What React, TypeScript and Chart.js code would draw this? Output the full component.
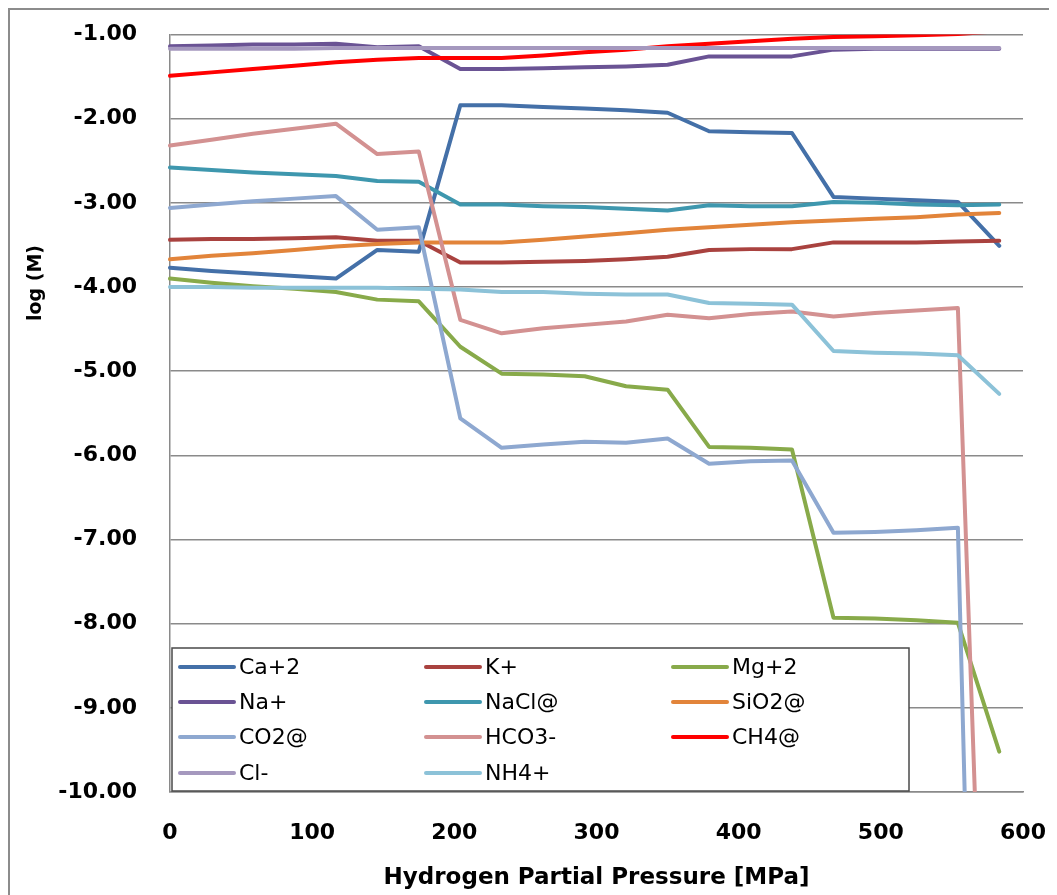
import { useEffect, useRef } from "react";
import { Chart, registerables } from "chart.js";

Chart.register(...registerables);

// Hydrogen partial pressure steps [MPa]
const pressure = [0, 29.2, 58.3, 87.5, 116.7, 145.8, 175.0, 204.2, 233.3, 262.5, 291.7, 320.8, 350.0, 379.2, 408.3, 437.5, 466.7, 495.8, 525.0, 554.2, 583.3];

// log (M) of each species at every pressure step
const ca2 = [-3.77, -3.81, -3.84, -3.87, -3.90, -3.56, -3.58, -1.84, -1.84, -1.86, -1.88, -1.90, -1.93, -2.15, -2.16, -2.17, -2.93, -2.95, -2.97, -2.99, -3.51];
const kPlus = [-3.44, -3.43, -3.43, -3.42, -3.41, -3.45, -3.45, -3.71, -3.71, -3.70, -3.69, -3.67, -3.64, -3.56, -3.55, -3.55, -3.47, -3.47, -3.47, -3.46, -3.45];
const mg2 = [-3.90, -3.95, -3.99, -4.02, -4.06, -4.15, -4.17, -4.71, -5.03, -5.04, -5.06, -5.18, -5.22, -5.90, -5.91, -5.93, -7.93, -7.94, -7.96, -7.99, -9.52];
const naPlus = [-1.14, -1.13, -1.12, -1.12, -1.11, -1.15, -1.14, -1.41, -1.41, -1.40, -1.39, -1.38, -1.36, -1.26, -1.26, -1.26, -1.18, -1.17, -1.17, -1.17, -1.17];
const nacl = [-2.58, -2.61, -2.64, -2.66, -2.68, -2.74, -2.75, -3.02, -3.02, -3.04, -3.05, -3.07, -3.09, -3.03, -3.04, -3.04, -2.99, -3.00, -3.02, -3.03, -3.02];
const sio2 = [-3.67, -3.63, -3.60, -3.56, -3.52, -3.49, -3.47, -3.47, -3.47, -3.44, -3.40, -3.36, -3.32, -3.29, -3.26, -3.23, -3.21, -3.19, -3.17, -3.14, -3.12];
const co2 = [-3.06, -3.02, -2.98, -2.95, -2.92, -3.32, -3.29, -5.56, -5.91, -5.87, -5.84, -5.85, -5.80, -6.10, -6.07, -6.06, -6.92, -6.91, -6.89, -6.86, -26.0];
const hco3 = [-2.32, -2.25, -2.18, -2.12, -2.06, -2.42, -2.39, -4.39, -4.55, -4.49, -4.45, -4.41, -4.33, -4.37, -4.32, -4.29, -4.35, -4.31, -4.28, -4.25, -18.3];
const ch4 = [-1.49, -1.45, -1.41, -1.37, -1.33, -1.30, -1.28, -1.28, -1.28, -1.25, -1.21, -1.18, -1.14, -1.11, -1.08, -1.05, -1.03, -1.02, -1.01, -0.995, -0.96];
const clMinus = [-1.17, -1.17, -1.17, -1.17, -1.16, -1.16, -1.16, -1.16, -1.16, -1.16, -1.16, -1.16, -1.16, -1.16, -1.16, -1.16, -1.16, -1.16, -1.16, -1.16, -1.16];
const nh4 = [-4.00, -4.00, -4.01, -4.01, -4.01, -4.01, -4.02, -4.03, -4.06, -4.06, -4.08, -4.09, -4.09, -4.19, -4.20, -4.21, -4.76, -4.78, -4.79, -4.81, -5.27];

const seriesNames = ["Ca+2", "K+", "Mg+2", "Na+", "NaCl@", "SiO2@", "CO2@", "HCO3-", "CH4@", "Cl-", "NH4+"];
const seriesValues = [ca2, kPlus, mg2, naPlus, nacl, sio2, co2, hco3, ch4, clMinus, nh4];
const seriesColors = ["#4470A8", "#A9423F", "#88AA4A", "#6A5394", "#3E97AE", "#E2843A", "#8EA8D0", "#D39191", "#FF0000", "#A598BE", "#8CC2D8"];

const yAxisTitle = "log (M)";
const xAxisTitle = "Hydrogen Partial Pressure [MPa]";

const FONT = "'DejaVu Sans', sans-serif";
const GRID = "#8a8a8a";
const CLEAR = "rgba(0,0,0,0)";

// Axis titles and the boxed three-column legend
const decorations = {
  id: "decorations",
  afterDatasetsDraw(chart: any) {
    const { ctx, chartArea } = chart;
    const boxLeft = chartArea.left + 2;
    const boxRight = boxLeft + 737;
    const boxBottom = chartArea.bottom - 1;
    const boxTop = boxBottom - 143;
    ctx.save();
    ctx.fillStyle = "#ffffff";
    ctx.fillRect(boxLeft, boxTop, boxRight - boxLeft, boxBottom - boxTop);
    ctx.strokeStyle = "#4a4a4a";
    ctx.lineWidth = 1.5;
    ctx.strokeRect(boxLeft, boxTop, boxRight - boxLeft, boxBottom - boxTop);

    const colStart = [8, 254, 501];
    const rowCenter = [19, 54, 89, 125];
    ctx.font = `22px ${FONT}`;
    ctx.textAlign = "left";
    ctx.textBaseline = "middle";
    seriesNames.forEach((name, i) => {
      const col = i % 3;
      const row = Math.floor(i / 3);
      const x0 = boxLeft + colStart[col];
      const y0 = boxTop + rowCenter[row];
      ctx.strokeStyle = seriesColors[i];
      ctx.lineWidth = 4;
      ctx.lineCap = "round";
      ctx.beginPath();
      ctx.moveTo(x0, y0);
      ctx.lineTo(x0 + 54, y0);
      ctx.stroke();
      ctx.fillStyle = "#000000";
      ctx.fillText(name, x0 + 59, y0 + 1);
    });
    ctx.restore();
  },
  afterDraw(chart: any) {
    const { ctx, chartArea } = chart;
    ctx.save();
    ctx.fillStyle = "#000000";
    ctx.textAlign = "center";
    ctx.textBaseline = "middle";
    ctx.font = `bold 23px ${FONT}`;
    ctx.fillText(xAxisTitle, (chartArea.left + chartArea.right) / 2, chartArea.bottom + 86);
    ctx.translate(26, 273);
    ctx.rotate(-Math.PI / 2);
    ctx.font = `bold 19px ${FONT}`;
    ctx.fillText(yAxisTitle, 0, 0);
    ctx.restore();
  },
};

export default function App() {
  const canvasRef = useRef<HTMLCanvasElement | null>(null);

  useEffect(() => {
    if (!canvasRef.current) return;
    const n = seriesValues.length;
    const chart = new Chart(canvasRef.current, {
      type: "line",
      data: {
        datasets: seriesValues.map((vals, i) => ({
          label: seriesNames[i],
          data: pressure.map((x, j) => ({ x, y: vals[j] })),
          borderColor: seriesColors[i],
          backgroundColor: seriesColors[i],
          borderWidth: 4,
          pointRadius: 0,
          tension: 0,
          fill: false,
          borderCapStyle: "round",
          borderJoinStyle: "round",
          clip: { left: 2, top: 0, right: 4, bottom: 0 },
          order: n - i,
        })),
      },
      options: {
        responsive: false,
        animation: false,
        events: [],
        layout: { padding: { top: 24.5, right: 34, left: 0, bottom: 0 } },
        plugins: {
          legend: { display: false },
          tooltip: { enabled: false },
        },
        scales: {
          x: {
            type: "linear",
            min: 0,
            max: 600,
            ticks: {
              stepSize: 100,
              maxRotation: 0,
              padding: 0,
              color: "#000000",
              font: { family: FONT, size: 22, weight: "bold" },
            },
            grid: { display: true, drawOnChartArea: false, drawTicks: true, tickLength: 28, tickColor: CLEAR },
            border: { display: true, color: GRID, width: 1.5 },
            afterFit: (s: any) => {
              s.height = 103;
            },
          },
          y: {
            type: "linear",
            min: -10,
            max: -1,
            ticks: {
              stepSize: 1,
              padding: 0,
              color: "#000000",
              font: { family: FONT, size: 22, weight: "bold" },
              callback: (v: any) => Number(v).toFixed(2),
            },
            grid: { color: GRID, lineWidth: 1.5, drawTicks: true, tickLength: 33, tickColor: CLEAR },
            border: { display: true, color: GRID, width: 1.5 },
            afterFit: (s: any) => {
              s.width = 160;
            },
          },
        },
      },
      plugins: [decorations],
    } as any);
    return () => chart.destroy();
  }, []);

  return (
    <>
      <style>{"html,body{overflow:hidden}"}</style>
      <div
        style={{
          position: "relative",
          width: 1049,
          height: 887,
          boxSizing: "border-box",
          borderTop: "2px solid #8c8c8c",
          borderLeft: "2px solid #8c8c8c",
          background: "#ffffff",
        }}
      >
        <canvas
          ref={canvasRef}
          width={1047}
          height={885}
          style={{ position: "absolute", left: 0, top: 0, display: "block" }}
        />
      </div>
    </>
  );
}
